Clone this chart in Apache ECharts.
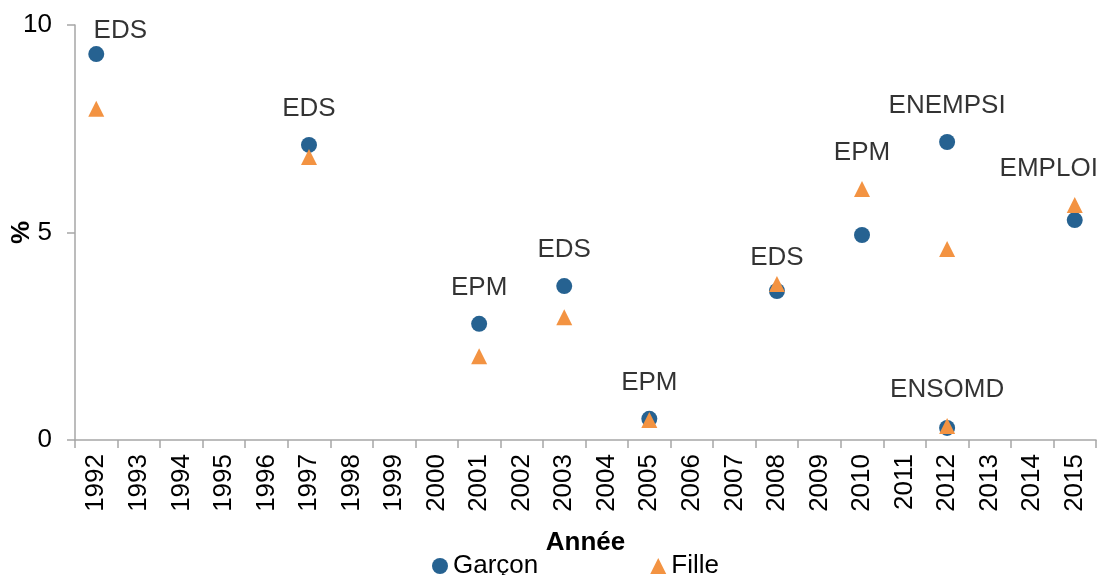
<!DOCTYPE html>
<html><head><meta charset="utf-8">
<script src="https://cdn.jsdelivr.net/npm/echarts@6/dist/echarts.min.js"></script>
<style>html,body{margin:0;padding:0;background:#fff}#c{width:1098px;height:575px}</style>
</head><body><div id="c"></div>
<script>
const years = ['1992','1993','1994','1995','1996','1997','1998','1999','2000','2001','2002','2003','2004','2005','2006','2007','2008','2009','2010','2011','2012','2013','2014','2015'];
const surveyYears = ['1992','1997','2001','2003','2005','2008','2010','2012','2012','2015'];
const surveys = ['EDS','EDS','EPM','EDS','EPM','EDS','EPM','ENEMPSI','ENSOMD','EMPLOI'];
const garcon = [9.30,7.11,2.80,3.71,0.51,3.59,4.94,7.18,0.29,5.30];
const fille = [7.98,6.82,2.02,2.96,0.48,3.76,6.05,4.60,0.34,5.66];
const yTicks = [0,5,10];

const FONT = '"Liberation Sans", Arial, sans-serif';
const labelOffsets = {0:[24,13], 5:[0,10], 9:[-26,0]};

const chart = echarts.init(document.getElementById('c'));
chart.setOption({
  animation:false,
  textStyle:{fontFamily:FONT},
  grid:{left:75,right:2,top:25,bottom:135,containLabel:false,outerBoundsMode:'none'},
  xAxis:{
    type:'category', data:years, boundaryGap:true,
    name:'Année', nameLocation:'middle', nameGap:90, nameMoveOverlap:false,
    nameTextStyle:{fontSize:26,fontWeight:'bold',color:'#000',fontFamily:FONT},
    axisLine:{lineStyle:{color:'#A6A6A6',width:1.5}},
    axisTick:{show:true,alignWithLabel:false,length:8,lineStyle:{color:'#A6A6A6',width:1.5}},
    axisLabel:{rotate:90,fontSize:26,color:'#000',margin:14,interval:0,fontFamily:FONT},
    splitLine:{show:false}
  },
  yAxis:{
    type:'value', min:0, max:10, interval:5,
    name:'%', nameLocation:'middle', nameGap:40, nameMoveOverlap:false,
    nameTextStyle:{fontSize:26,fontWeight:'bold',color:'#000',fontFamily:FONT},
    axisLine:{show:true,lineStyle:{color:'#A6A6A6',width:1.5}},
    axisTick:{show:true,length:8,lineStyle:{color:'#A6A6A6',width:1.5}},
    axisLabel:{fontSize:26,color:'#000',margin:23,fontFamily:FONT,
      formatter:v=>yTicks.includes(v)?String(v):''},
    splitLine:{show:false}
  },
  legend:{
    left:427, top:548, itemGap:112, itemWidth:16, itemHeight:16,
    textStyle:{fontSize:26,color:'#000',fontFamily:FONT},
    data:['Garçon','Fille']
  },
  series:[
    {name:'Garçon', type:'scatter', symbol:'circle', symbolSize:16,
     itemStyle:{color:'#266291',opacity:1},
     data:surveyYears.map((y,i)=>[y,garcon[i]])},
    {name:'Fille', type:'scatter', symbol:'triangle', symbolSize:16,
     itemStyle:{color:'#F39342',opacity:1},
     data:surveyYears.map((y,i)=>[y,fille[i]])},
    {name:'labels', type:'scatter', symbolSize:0, silent:true, z:5,
     data:surveyYears.map((y,i)=>({value:[y,Math.max(garcon[i],fille[i])],
       label:{offset:labelOffsets[i]||[0,0]}})),
     label:{show:true, position:'top', distance:23, fontSize:26, color:'#000', fontFamily:FONT,
       formatter:p=>surveys[p.dataIndex]}}
  ]
});
</script></body></html>
